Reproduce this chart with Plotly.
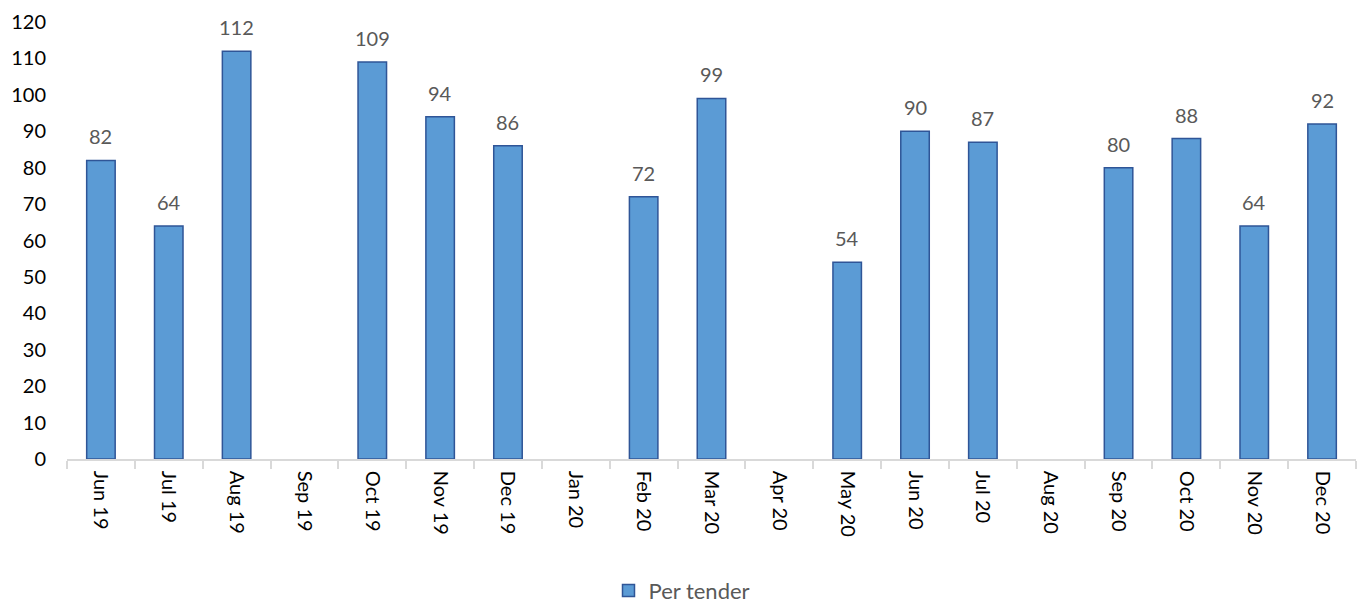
import plotly.graph_objects as go

months = ["Jun 19", "Jul 19", "Aug 19", "Sep 19", "Oct 19", "Nov 19", "Dec 19", "Jan 20",
          "Feb 20", "Mar 20", "Apr 20", "May 20", "Jun 20", "Jul 20", "Aug 20", "Sep 20",
          "Oct 20", "Nov 20", "Dec 20"]
per_tender = [82, 64, 112, None, 109, 94, 86, None, 72, 99, None, 54, 90, 87, None, 80, 88, 64, 92]
y_ticks = [0, 10, 20, 30, 40, 50, 60, 70, 80, 90, 100, 110, 120]

FONT = "Lato, 'Open Sans', sans-serif"

fig = go.Figure(go.Bar(
    x=months, y=per_tender, name="Per tender",
    marker=dict(color="#5b9bd5", line=dict(color="#2f5597", width=1.5)),
    width=0.42,
))

for m, v in zip(months, per_tender):
    if v is None:
        continue
    fig.add_annotation(x=m, y=v, text=str(v), showarrow=False, yanchor="bottom",
                       yshift=10, font=dict(family=FONT, size=20, color="#595959"))

fig.update_layout(
    width=1364, height=604,
    margin=dict(l=67, r=8, t=22, b=145),
    plot_bgcolor="white", paper_bgcolor="white",
    font=dict(family=FONT, size=20, color="#000000"),
    showlegend=True,
    legend=dict(orientation="h", xref="container", x=0.5, xanchor="center",
                yref="container", y=0.022, yanchor="middle", itemwidth=30,
                font=dict(family=FONT, size=22, color="#595959")),
)
fig.update_xaxes(
    type="category", range=[-0.5, 18.5],
    showline=True, linecolor="#d9d9d9", linewidth=1.5,
    ticks="outside", tickson="boundaries", ticklen=8, tickcolor="#d9d9d9", tickwidth=1.5,
    ticklabelstandoff=6,
    tickangle=90, tickfont=dict(family=FONT, size=20, color="#000000"),
    showgrid=False,
)
fig.update_yaxes(
    range=[0, 120], tickvals=y_ticks, showgrid=False, zeroline=False, showline=False,
    ticks="", ticklabelstandoff=20, tickfont=dict(family=FONT, size=20, color="#000000"),
)
fig.write_html("out.html")
